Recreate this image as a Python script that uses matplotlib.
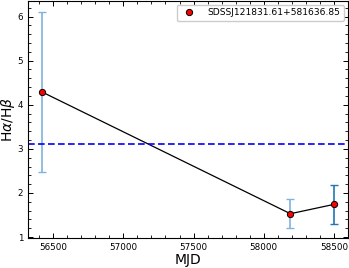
import matplotlib
matplotlib.use("Agg")
import matplotlib.pyplot as plt
from matplotlib.ticker import MultipleLocator

mjd = [56420, 58190, 58498]
ratio = [4.29, 1.53, 1.74]
err_lo = [1.81, 0.33, 0.45]
err_hi = [1.81, 0.33, 0.44]
err_colors = ["#7fb3dc", "#7fb3dc", "#1f77b4"]
label = "SDSSJ121831.61+581636.85"
ref_value = 3.1

fig = plt.figure(figsize=(3.49, 2.68), dpi=100)
ax = fig.add_axes([0.080, 0.112, 0.917, 0.884])

for x, y, lo, hi, c in zip(mjd, ratio, err_lo, err_hi, err_colors):
    ax.errorbar([x], [y], yerr=[[lo], [hi]], fmt="none", ecolor=c,
                elinewidth=1.2, capsize=3, capthick=1.0, zorder=1)
ax.plot(mjd, ratio, color="black", lw=0.9, zorder=2)
ax.plot(mjd, ratio, "o", color="red", mec="black", mew=0.7, ms=4.5,
        label=label, zorder=3, linestyle="none")
ax.axhline(ref_value, color="blue", ls="--", lw=1.2, dashes=(4, 2))

ax.set_xlim(56320, 58600)
ax.set_ylim(0.98, 6.35)
ax.xaxis.set_major_locator(MultipleLocator(500))
ax.xaxis.set_minor_locator(MultipleLocator(100))
ax.yaxis.set_major_locator(MultipleLocator(1))
ax.yaxis.set_minor_locator(MultipleLocator(0.2))
ax.tick_params(which="both", direction="in", top=True, right=True, labelsize=6.3)
ax.tick_params(which="major", length=3.5, width=0.7)
ax.tick_params(which="minor", length=2, width=0.6)
for s in ax.spines.values():
    s.set_linewidth(0.8)

ax.set_xlabel("MJD", fontsize=10, labelpad=1)
ax.set_ylabel(r"H$\alpha$/H$\beta$", fontsize=10, labelpad=0.5)
ax.legend(loc="upper right", fontsize=6.6, handletextpad=1.0,
          borderpad=0.4, borderaxespad=0.4, framealpha=1, edgecolor="#cccccc")

fig.savefig("out.png", dpi=100)
